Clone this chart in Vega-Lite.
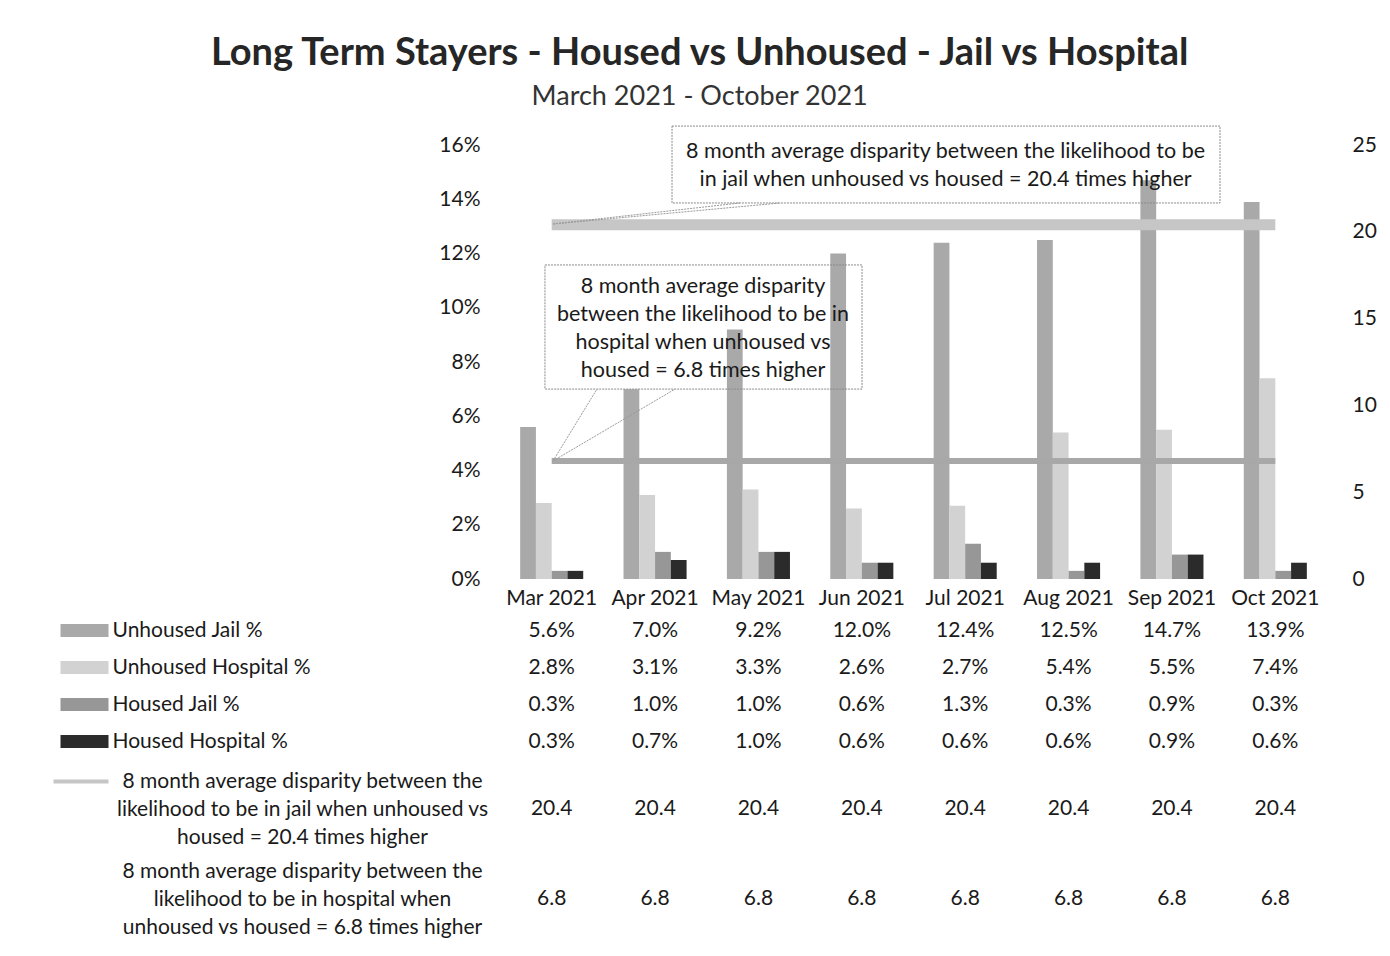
{
  "$schema": "https://vega.github.io/schema/vega-lite/v6.json",
  "background": "white",
  "padding": {"left": 51, "right": 8, "top": 34, "bottom": 0},
  "config": {
    "font": "Lato",
    "view": {"stroke": null},
    "axis": {"labelLimit": 700, "labelColor": "#1a1a1a", "labelFontSize": 21, "grid": false, "domain": false, "ticks": false, "title": null}
  },
  "title": {
    "text": "Long Term Stayers - Housed vs Unhoused - Jail vs Hospital",
    "subtitle": "March 2021 - October 2021",
    "anchor": "middle",
    "fontSize": 38,
    "fontWeight": "bold",
    "color": "#262626",
    "subtitleFontSize": 27,
    "subtitleColor": "#333333",
    "subtitlePadding": 11,
    "offset": 16,
    "dx": -14
  },
  "spacing": 4,
  "resolve": {"scale": {"x": "independent", "y": "independent", "color": "independent"}},
  "datasets": {
    "main": [
      {"month": "Mar 2021", "series": "Unhoused Jail %", "value": 0.056},
      {"month": "Apr 2021", "series": "Unhoused Jail %", "value": 0.070},
      {"month": "May 2021", "series": "Unhoused Jail %", "value": 0.092},
      {"month": "Jun 2021", "series": "Unhoused Jail %", "value": 0.120},
      {"month": "Jul 2021", "series": "Unhoused Jail %", "value": 0.124},
      {"month": "Aug 2021", "series": "Unhoused Jail %", "value": 0.125},
      {"month": "Sep 2021", "series": "Unhoused Jail %", "value": 0.147},
      {"month": "Oct 2021", "series": "Unhoused Jail %", "value": 0.139},
      {"month": "Mar 2021", "series": "Unhoused Hospital %", "value": 0.028},
      {"month": "Apr 2021", "series": "Unhoused Hospital %", "value": 0.031},
      {"month": "May 2021", "series": "Unhoused Hospital %", "value": 0.033},
      {"month": "Jun 2021", "series": "Unhoused Hospital %", "value": 0.026},
      {"month": "Jul 2021", "series": "Unhoused Hospital %", "value": 0.027},
      {"month": "Aug 2021", "series": "Unhoused Hospital %", "value": 0.054},
      {"month": "Sep 2021", "series": "Unhoused Hospital %", "value": 0.055},
      {"month": "Oct 2021", "series": "Unhoused Hospital %", "value": 0.074},
      {"month": "Mar 2021", "series": "Housed Jail %", "value": 0.003},
      {"month": "Apr 2021", "series": "Housed Jail %", "value": 0.010},
      {"month": "May 2021", "series": "Housed Jail %", "value": 0.010},
      {"month": "Jun 2021", "series": "Housed Jail %", "value": 0.006},
      {"month": "Jul 2021", "series": "Housed Jail %", "value": 0.013},
      {"month": "Aug 2021", "series": "Housed Jail %", "value": 0.003},
      {"month": "Sep 2021", "series": "Housed Jail %", "value": 0.009},
      {"month": "Oct 2021", "series": "Housed Jail %", "value": 0.003},
      {"month": "Mar 2021", "series": "Housed Hospital %", "value": 0.003},
      {"month": "Apr 2021", "series": "Housed Hospital %", "value": 0.007},
      {"month": "May 2021", "series": "Housed Hospital %", "value": 0.010},
      {"month": "Jun 2021", "series": "Housed Hospital %", "value": 0.006},
      {"month": "Jul 2021", "series": "Housed Hospital %", "value": 0.006},
      {"month": "Aug 2021", "series": "Housed Hospital %", "value": 0.006},
      {"month": "Sep 2021", "series": "Housed Hospital %", "value": 0.009},
      {"month": "Oct 2021", "series": "Housed Hospital %", "value": 0.006},
      {"month": "Mar 2021", "series": "8 month average disparity between the likelihood to be in jail when unhoused vs housed = 20.4 times higher", "value": 20.4},
      {"month": "Apr 2021", "series": "8 month average disparity between the likelihood to be in jail when unhoused vs housed = 20.4 times higher", "value": 20.4},
      {"month": "May 2021", "series": "8 month average disparity between the likelihood to be in jail when unhoused vs housed = 20.4 times higher", "value": 20.4},
      {"month": "Jun 2021", "series": "8 month average disparity between the likelihood to be in jail when unhoused vs housed = 20.4 times higher", "value": 20.4},
      {"month": "Jul 2021", "series": "8 month average disparity between the likelihood to be in jail when unhoused vs housed = 20.4 times higher", "value": 20.4},
      {"month": "Aug 2021", "series": "8 month average disparity between the likelihood to be in jail when unhoused vs housed = 20.4 times higher", "value": 20.4},
      {"month": "Sep 2021", "series": "8 month average disparity between the likelihood to be in jail when unhoused vs housed = 20.4 times higher", "value": 20.4},
      {"month": "Oct 2021", "series": "8 month average disparity between the likelihood to be in jail when unhoused vs housed = 20.4 times higher", "value": 20.4},
      {"month": "Mar 2021", "series": "8 month average disparity between the likelihood to be in hospital when unhoused vs housed = 6.8 times higher", "value": 6.8},
      {"month": "Apr 2021", "series": "8 month average disparity between the likelihood to be in hospital when unhoused vs housed = 6.8 times higher", "value": 6.8},
      {"month": "May 2021", "series": "8 month average disparity between the likelihood to be in hospital when unhoused vs housed = 6.8 times higher", "value": 6.8},
      {"month": "Jun 2021", "series": "8 month average disparity between the likelihood to be in hospital when unhoused vs housed = 6.8 times higher", "value": 6.8},
      {"month": "Jul 2021", "series": "8 month average disparity between the likelihood to be in hospital when unhoused vs housed = 6.8 times higher", "value": 6.8},
      {"month": "Aug 2021", "series": "8 month average disparity between the likelihood to be in hospital when unhoused vs housed = 6.8 times higher", "value": 6.8},
      {"month": "Sep 2021", "series": "8 month average disparity between the likelihood to be in hospital when unhoused vs housed = 6.8 times higher", "value": 6.8},
      {"month": "Oct 2021", "series": "8 month average disparity between the likelihood to be in hospital when unhoused vs housed = 6.8 times higher", "value": 6.8}
    ]
  },
  "vconcat": [
    {
      "width": 827,
      "height": 434,
      "layer": [
        {
          "data": {"name": "main"},
          "transform": [{"filter": "indexof(datum.series, '%') >= 0"}],
          "mark": {"type": "bar"},
          "encoding": {
            "x": {
              "field": "month", "type": "nominal",
              "sort": ["Mar 2021","Apr 2021","May 2021","Jun 2021","Jul 2021","Aug 2021","Sep 2021","Oct 2021"],
              "scale": {"type": "band", "paddingInner": 0.39, "paddingOuter": 0.195},
              "axis": {"labelAngle": 0, "labelPadding": 8, "labelColor": "#1a1a1a"}
            },
            "xOffset": {
              "field": "series", "type": "nominal",
              "sort": ["Unhoused Jail %", "Unhoused Hospital %", "Housed Jail %", "Housed Hospital %"]
            },
            "y": {
              "field": "value", "type": "quantitative",
              "scale": {"domain": [0, 0.16]},
              "axis": {"orient": "left", "format": ".0%", "values": [0, 0.02, 0.04, 0.06, 0.08, 0.10, 0.12, 0.14, 0.16], "labelPadding": 20}
            },
            "color": {
              "field": "series", "type": "nominal",
              "scale": {"domain": ["Unhoused Jail %", "Unhoused Hospital %", "Housed Jail %", "Housed Hospital %"], "range": ["#a9a9a9", "#d2d2d2", "#979797", "#2b2b2b"]},
              "legend": null
            }
          }
        },
        {
          "data": {"name": "main"},
          "transform": [{"filter": "indexof(datum.series, '%') < 0"}],
          "mark": {"type": "line", "strokeCap": "butt"},
          "encoding": {
            "x": {
              "field": "month", "type": "nominal",
              "sort": ["Mar 2021","Apr 2021","May 2021","Jun 2021","Jul 2021","Aug 2021","Sep 2021","Oct 2021"],
              "scale": {"type": "band", "paddingInner": 0.39, "paddingOuter": 0.195},
              "axis": null
            },
            "y": {
              "field": "value", "type": "quantitative",
              "scale": {"domain": [0, 25]},
              "axis": {"orient": "right", "values": [0, 5, 10, 15, 20, 25], "labelPadding": 25}
            },
            "color": {
              "field": "series", "type": "nominal",
              "scale": {"range": ["#c6c6c6", "#a8a8a8"]},
              "sort": ["8 month average disparity between the likelihood to be in jail when unhoused vs housed = 20.4 times higher", "8 month average disparity between the likelihood to be in hospital when unhoused vs housed = 6.8 times higher"],
              "legend": null
            },
            "strokeWidth": {
              "field": "series", "type": "nominal",
              "scale": {"domain": ["8 month average disparity between the likelihood to be in jail when unhoused vs housed = 20.4 times higher", "8 month average disparity between the likelihood to be in hospital when unhoused vs housed = 6.8 times higher"], "range": [11, 6]},
              "legend": null
            }
          }
        },
        {
          "data": {"values": [{}]},
          "layer": [
            {
              "mark": {"type": "rect", "fill": null, "stroke": "#8a8a8a", "strokeWidth": 1, "strokeDash": [2, 1]},
              "encoding": {
                "x": {"datum": 1.664, "type": "quantitative", "scale": {"domain": [0, 8]}, "axis": null},
                "x2": {"datum": 6.965},
                "y": {"datum": 26.09, "type": "quantitative", "scale": {"domain": [0, 25]}, "axis": null},
                "y2": {"datum": 21.66}
              }
            },
            {
              "mark": {"type": "text", "fontSize": 21.5, "lineHeight": 28, "align": "center", "baseline": "middle", "color": "#1a1a1a",
                       "text": ["8 month average disparity between the likelihood to be", "in jail when unhoused vs housed = 20.4 times higher"]},
              "encoding": {
                "x": {"datum": 4.31, "type": "quantitative", "scale": {"domain": [0, 8]}},
                "y": {"datum": 24.6, "type": "quantitative", "scale": {"domain": [0, 25]}}
              }
            },
            {
              "mark": {"type": "rule", "stroke": "#9a9a9a", "strokeWidth": 1, "strokeDash": [2, 1]},
              "encoding": {
                "x": {"datum": 0.513, "type": "quantitative", "scale": {"domain": [0, 8]}},
                "y": {"datum": 20.45, "type": "quantitative", "scale": {"domain": [0, 25]}},
                "x2": {"datum": 2.32}, "y2": {"datum": 21.66}}
            },
            {
              "mark": {"type": "rule", "stroke": "#9a9a9a", "strokeWidth": 1, "strokeDash": [2, 1]},
              "encoding": {
                "x": {"datum": 0.513, "type": "quantitative", "scale": {"domain": [0, 8]}},
                "y": {"datum": 20.45, "type": "quantitative", "scale": {"domain": [0, 25]}},
                "x2": {"datum": 2.71}, "y2": {"datum": 21.66}}
            },
            {
              "mark": {"type": "rect", "fill": null, "stroke": "#8a8a8a", "strokeWidth": 1, "strokeDash": [2, 1]},
              "encoding": {
                "x": {"datum": 0.435, "type": "quantitative", "scale": {"domain": [0, 8]}}, "x2": {"datum": 3.502},
                "y": {"datum": 18.09, "type": "quantitative", "scale": {"domain": [0, 25]}}, "y2": {"datum": 10.94}
              }
            },
            {
              "mark": {"type": "text", "fontSize": 21.5, "lineHeight": 28, "align": "center", "baseline": "middle", "color": "#1a1a1a",
                       "text": ["8 month average disparity", "between the likelihood to be in", "hospital when unhoused vs", "housed = 6.8 times higher"]},
              "encoding": {
                "x": {"datum": 1.964, "type": "quantitative", "scale": {"domain": [0, 8]}},
                "y": {"datum": 16.82, "type": "quantitative", "scale": {"domain": [0, 25]}}
              }
            },
            {
              "mark": {"type": "rule", "stroke": "#9a9a9a", "strokeWidth": 1, "strokeDash": [2, 1]},
              "encoding": {
                "x": {"datum": 0.513, "type": "quantitative", "scale": {"domain": [0, 8]}},
                "y": {"datum": 6.8, "type": "quantitative", "scale": {"domain": [0, 25]}},
                "x2": {"datum": 0.938}, "y2": {"datum": 10.94}}
            },
            {
              "mark": {"type": "rule", "stroke": "#9a9a9a", "strokeWidth": 1, "strokeDash": [2, 1]},
              "encoding": {
                "x": {"datum": 0.513, "type": "quantitative", "scale": {"domain": [0, 8]}},
                "y": {"datum": 6.8, "type": "quantitative", "scale": {"domain": [0, 25]}},
                "x2": {"datum": 1.693}, "y2": {"datum": 10.94}}
            }
          ]
        }
      ],
      "resolve": {"scale": {"x": "independent", "y": "independent", "color": "independent"}, "axis": {"x": "independent", "y": "independent"}}
    },
    {
      "width": 827,
      "height": {"step": 37},
      "data": {"name": "main"},
      "transform": [{"filter": "indexof(datum.series, '%') >= 0"}],
      "mark": {"type": "text", "fontSize": 21, "color": "#1a1a1a", "baseline": "middle"},
      "encoding": {
        "x": {
          "field": "month", "type": "nominal",
          "sort": ["Mar 2021","Apr 2021","May 2021","Jun 2021","Jul 2021","Aug 2021","Sep 2021","Oct 2021"],
          "scale": {"type": "band", "paddingInner": 0.39, "paddingOuter": 0.195},
          "axis": null
        },
        "y": {
          "field": "series", "type": "nominal",
          "sort": ["Unhoused Jail %", "Unhoused Hospital %", "Housed Jail %", "Housed Hospital %"],
          "scale": {"type": "band", "paddingInner": 0, "paddingOuter": 0},
          "axis": {
            "offset": 392,
            "ticks": true,
            "tickSize": 48,
            "tickWidth": 13,
            "tickCap": "butt",
            "tickColor": {"expr": "datum.value == 'Unhoused Jail %' ? '#a9a9a9' : datum.value == 'Unhoused Hospital %' ? '#d2d2d2' : datum.value == 'Housed Jail %' ? '#979797' : '#2b2b2b'"},
            "labelAlign": "left",
            "labelPadding": -52,
            "labelFontSize": 21
          }
        },
        "text": {"field": "value", "type": "quantitative", "format": ".1%"}
      }
    },
    {
      "width": 827,
      "height": {"step": 90},
      "data": {"name": "main"},
      "transform": [{"filter": "indexof(datum.series, '%') < 0"}],
      "mark": {"type": "text", "fontSize": 21, "color": "#1a1a1a", "baseline": "middle"},
      "encoding": {
        "x": {
          "field": "month", "type": "nominal",
          "sort": ["Mar 2021","Apr 2021","May 2021","Jun 2021","Jul 2021","Aug 2021","Sep 2021","Oct 2021"],
          "scale": {"type": "band", "paddingInner": 0.39, "paddingOuter": 0.195},
          "axis": null
        },
        "y": {
          "field": "series", "type": "nominal",
          "sort": ["8 month average disparity between the likelihood to be in jail when unhoused vs housed = 20.4 times higher", "8 month average disparity between the likelihood to be in hospital when unhoused vs housed = 6.8 times higher"],
          "scale": {"type": "band", "paddingInner": 0, "paddingOuter": 0},
          "axis": {
            "offset": 392,
            "ticks": true,
            "tickSize": 55,
            "tickWidth": 4,
            "tickCap": "butt",
            "tickOffset": -28,
            "tickColor": {"expr": "indexof(datum.value, 'jail') >= 0 ? '#c6c6c6' : 'transparent'"},
            "labelAlign": "center",
            "labelPadding": -249,
            "labelLineHeight": 28,
            "labelFontSize": 21,
            "labelExpr": "indexof(datum.label, 'jail') >= 0 ? ['8 month average disparity between the', 'likelihood to be in jail when unhoused vs', 'housed = 20.4 times higher'] : ['8 month average disparity between the', 'likelihood to be in hospital when', 'unhoused vs housed = 6.8 times higher']"
          }
        },
        "text": {"field": "value", "type": "quantitative", "format": ".1f"}
      }
    }
  ]
}
